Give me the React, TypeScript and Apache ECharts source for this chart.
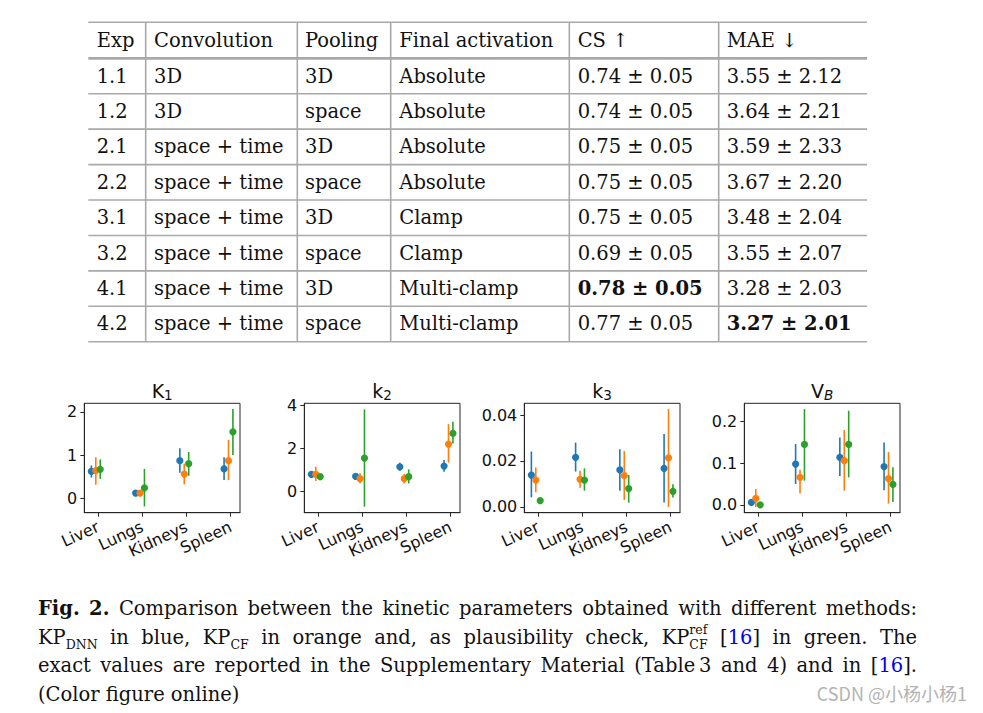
import React, { useEffect, useRef } from 'react';
import * as echarts from 'echarts';

// ---------------- Table data ----------------
const TABLE_HEADERS = ['Exp', 'Convolution', 'Pooling', 'Final activation', 'CS ↑', 'MAE ↓'];
const EXP = ['1.1', '1.2', '2.1', '2.2', '3.1', '3.2', '4.1', '4.2'];
const CONVOLUTION = ['3D', '3D', 'space + time', 'space + time', 'space + time', 'space + time', 'space + time', 'space + time'];
const POOLING = ['3D', 'space', '3D', 'space', '3D', 'space', '3D', 'space'];
const FINAL_ACTIVATION = ['Absolute', 'Absolute', 'Absolute', 'Absolute', 'Clamp', 'Clamp', 'Multi-clamp', 'Multi-clamp'];
const CS = ['0.74 ± 0.05', '0.74 ± 0.05', '0.75 ± 0.05', '0.75 ± 0.05', '0.75 ± 0.05', '0.69 ± 0.05', '0.78 ± 0.05', '0.77 ± 0.05'];
const MAE = ['3.55 ± 2.12', '3.64 ± 2.21', '3.59 ± 2.33', '3.67 ± 2.20', '3.48 ± 2.04', '3.55 ± 2.07', '3.28 ± 2.03', '3.27 ± 2.01'];
const BEST_CS_ROW = 6;
const BEST_MAE_ROW = 7;

// ---------------- Chart data ----------------
const ORGANS = ['Liver', 'Lungs', 'Kidneys', 'Spleen'];
const METHOD_COLORS = ['#1f77b4', '#ff7f0e', '#2ca02c'];
const METHOD_OFFSETS = [-0.15, -0.05, 0.05];

// each entry: [mean, low, high] per organ
const K1_DNN = [[0.62, 0.48, 0.76], [0.12, 0.10, 0.14], [0.87, 0.59, 1.16], [0.68, 0.42, 0.95]];
const K1_CF = [[0.64, 0.31, 0.95], [0.12, 0.10, 0.14], [0.56, 0.32, 0.80], [0.87, 0.42, 1.35]];
const K1_REF = [[0.67, 0.45, 0.90], [0.24, -0.19, 0.68], [0.80, 0.52, 1.07], [1.54, 1.00, 2.07]];

const K2_DNN = [[0.80, 0.70, 0.90], [0.71, 0.64, 0.78], [1.15, 0.97, 1.34], [1.18, 0.92, 1.46]];
const K2_CF = [[0.80, 0.49, 1.15], [0.60, 0.38, 0.85], [0.60, 0.38, 0.82], [2.20, 1.34, 3.12]];
const K2_REF = [[0.69, 0.60, 0.78], [1.55, -0.69, 3.80], [0.69, 0.38, 1.03], [2.69, 2.23, 3.23]];

const K3_DNN = [[0.0139, 0.0042, 0.0241], [0.0216, 0.0154, 0.0280], [0.0161, 0.0071, 0.0251], [0.0168, 0.0019, 0.0317]];
const K3_CF = [[0.0117, 0.0064, 0.0172], [0.0120, 0.0084, 0.0157], [0.0136, 0.0030, 0.0243], [0.0214, 0.0000, 0.0426]];
const K3_REF = [[0.0028, 0.0024, 0.0032], [0.0117, 0.0071, 0.0168], [0.0080, 0.0019, 0.0139], [0.0068, 0.0041, 0.0099]];

const VB_DNN = [[0.0056, 0.004, 0.007], [0.098, 0.050, 0.146], [0.114, 0.069, 0.162], [0.092, 0.035, 0.150]];
const VB_CF = [[0.0153, -0.005, 0.038], [0.066, 0.027, 0.084], [0.106, 0.034, 0.180], [0.063, 0.003, 0.127]];
const VB_REF = [[0.000, -0.001, 0.001], [0.145, 0.058, 0.230], [0.145, 0.066, 0.226], [0.049, 0.007, 0.090]];

const TITLE_MAIN = ['K', 'k', 'k', 'V'];
const TITLE_SUB = ['1', '2', '3', 'B'];
const K1_TICKS = [0, 1, 2];
const K2_TICKS = [0, 2, 4];
const K3_TICKS = [0, 0.02, 0.04];
const VB_TICKS = [0, 0.1, 0.2];

const PARAMS = [
  { data: [K1_DNN, K1_CF, K1_REF], min: -0.335, max: 2.2, ticks: K1_TICKS, dec: 0 },
  { data: [K2_DNN, K2_CF, K2_REF], min: -0.97, max: 4.08, ticks: K2_TICKS, dec: 0 },
  { data: [K3_DNN, K3_CF, K3_REF], min: -0.0025, max: 0.0451, ticks: K3_TICKS, dec: 2 },
  { data: [VB_DNN, VB_CF, VB_REF], min: -0.019, max: 0.244, ticks: VB_TICKS, dec: 1 },
];

// ---------------- Caption ----------------
type Piece = { t: string; k?: 'b' | 'sub' | 'sup'; c?: string; stack?: boolean };
const BLUE_LINK = '#0000ee';
const KP_DNN: Piece[] = [{ t: 'KP' }, { t: 'DNN', k: 'sub' }];
const KP_CF: Piece[] = [{ t: 'KP' }, { t: 'CF', k: 'sub' }];
const KP_REF_CF: Piece[] = [{ t: 'KP' }, { t: 'ref', k: 'sup', stack: true }, { t: 'CF', k: 'sub' }];
const REF16: Piece[] = [{ t: '[' }, { t: '16', c: BLUE_LINK }, { t: ']' }];
const REF16_DOT: Piece[] = [{ t: '[' }, { t: '16', c: BLUE_LINK }, { t: '].' }];
const CAPTION_LINE_1: (string | Piece[])[] = [[{ t: 'Fig.', k: 'b' }], [{ t: '2.', k: 'b' }], 'Comparison', 'between', 'the', 'kinetic', 'parameters', 'obtained', 'with', 'different', 'methods:'];
const CAPTION_LINE_2: (string | Piece[])[] = [KP_DNN, 'in', 'blue,', KP_CF, 'in', 'orange', 'and,', 'as', 'plausibility', 'check,', KP_REF_CF, REF16, 'in', 'green.', 'The'];
const CAPTION_LINE_3: (string | Piece[])[] = ['exact', 'values', 'are', 'reported', 'in', 'the', 'Supplementary', 'Material', '(Table\u20093', 'and', '4)', 'and', 'in', REF16_DOT];
const CAPTION_LINE_4: (string | Piece[])[] = ['(Color', 'figure', 'online)'];
const WATERMARK = 'CSDN @小杨小杨1';

const SERIF = '"DejaVu Serif", serif';
const SANS = '"DejaVu Sans", sans-serif';

export default function App() {
  const ref = useRef<HTMLDivElement>(null);
  useEffect(() => {
    document.body.style.margin = '0';
    const chart = echarts.init(ref.current!, null, { renderer: 'svg' });

    const canvas = document.createElement('canvas');
    const ctx = canvas.getContext('2d')!;
    const measure = (t: string, font: string) => { ctx.font = font; return ctx.measureText(t).width; };

    const graphics: any[] = [];

    // ---- table ----
    const TABLE_LEFT = 88.3, TABLE_RIGHT = 867;
    const TABLE_TOP = 22.3, HEADER_BOTTOM = 58.3, TABLE_BOTTOM = 341.7;
    const ROW_H = (TABLE_BOTTOM - HEADER_BOTTOM) / EXP.length;
    const COL_X = [96.7, 154, 305, 399.3, 577.7, 726.7];
    const COL_SEP = [145.7, 297.3, 390.7, 569.3, 718.7];
    const lineColor = '#a9a9a9';
    const tFont = (bold: boolean) => `${bold ? 'bold ' : ''}19.5px ${SERIF}`;
    graphics.push({ type: 'line', shape: { x1: TABLE_LEFT, y1: TABLE_TOP, x2: TABLE_RIGHT, y2: TABLE_TOP }, style: { stroke: lineColor, lineWidth: 1.6 } });
    graphics.push({ type: 'line', shape: { x1: TABLE_LEFT, y1: HEADER_BOTTOM, x2: TABLE_RIGHT, y2: HEADER_BOTTOM }, style: { stroke: lineColor, lineWidth: 2.8 } });
    for (let r = 1; r <= EXP.length; r++) {
      const y = HEADER_BOTTOM + r * ROW_H;
      graphics.push({ type: 'line', shape: { x1: TABLE_LEFT, y1: y, x2: TABLE_RIGHT, y2: y }, style: { stroke: lineColor, lineWidth: 1.6 } });
    }
    COL_SEP.forEach((x) => {
      graphics.push({ type: 'line', shape: { x1: x, y1: TABLE_TOP, x2: x, y2: TABLE_BOTTOM }, style: { stroke: lineColor, lineWidth: 1.6 } });
    });
    TABLE_HEADERS.forEach((h, c) => {
      graphics.push({ type: 'text', x: COL_X[c], y: (TABLE_TOP + HEADER_BOTTOM) / 2, style: { text: h, font: tFont(false), fill: '#111', align: 'left', verticalAlign: 'middle' } });
    });
    const columns = [EXP, CONVOLUTION, POOLING, FINAL_ACTIVATION, CS, MAE];
    for (let r = 0; r < EXP.length; r++) {
      const y = HEADER_BOTTOM + (r + 0.5) * ROW_H;
      columns.forEach((col, c) => {
        const bold = (c === 4 && r === BEST_CS_ROW) || (c === 5 && r === BEST_MAE_ROW);
        graphics.push({ type: 'text', x: COL_X[c], y, style: { text: col[r], font: tFont(bold), fill: '#111', align: 'left', verticalAlign: 'middle' } });
      });
    }

    // ---- chart titles ----
    const GRID_LEFTS = [84.3, 304.3, 524.3, 744.3];
    const GRID_TOP = 403.3, GRID_W = 155.7, GRID_H = 109.4;
    TITLE_MAIN.forEach((m, i) => {
      graphics.push({
        type: 'text', x: GRID_LEFTS[i] + GRID_W / 2, y: 391,
        style: {
          text: `{m|${m}}{s|${TITLE_SUB[i]}}`, align: 'center', verticalAlign: 'middle', fill: '#111',
          rich: {
            m: { fontSize: 19, fontFamily: SANS, lineHeight: 22 },
            s: { fontSize: 13.5, fontFamily: SANS, lineHeight: 13, verticalAlign: 'bottom', fontStyle: i === 3 ? 'italic' : 'normal' },
          },
        },
      });
    });

    // ---- caption ----
    const CAP_LEFT = 38, CAP_RIGHT = 917;
    const CAP_BASELINES = [615.7, 644.3, 672.5, 700.8];
    const MAIN_FS = 19.5, SUB_FS = 12.5;
    const SUB_SHIFT = 4.5, SUP_SHIFT = -10.5;
    const pieceFont = (p: Piece) => p.k === 'b' ? `bold ${MAIN_FS}px ${SERIF}` : (p.k === 'sub' || p.k === 'sup') ? `${SUB_FS}px ${SERIF}` : `${MAIN_FS}px ${SERIF}`;
    const pieceY = (p: Piece, base: number) => {
      const fs = p.k === 'sub' || p.k === 'sup' ? SUB_FS : MAIN_FS;
      const shift = p.k === 'sub' ? SUB_SHIFT : p.k === 'sup' ? SUP_SHIFT : 0;
      return base + shift - 0.346 * fs;
    };
    const toPieces = (w: string | Piece[]): Piece[] => typeof w === 'string' ? [{ t: w }] : w;
    const wordWidth = (ps: Piece[]) => {
      let wsum = 0;
      for (let i = 0; i < ps.length; i++) {
        const p = ps[i];
        const wp = measure(p.t, pieceFont(p));
        if (p.stack && i + 1 < ps.length) {
          const wn = measure(ps[i + 1].t, pieceFont(ps[i + 1]));
          wsum += Math.max(wp, wn);
          i++;
        } else wsum += wp;
      }
      return wsum;
    };
    const lines = [CAPTION_LINE_1, CAPTION_LINE_2, CAPTION_LINE_3, CAPTION_LINE_4];
    lines.forEach((line, li) => {
      const words = line.map(toPieces);
      const widths = words.map(wordWidth);
      const natural = widths.reduce((a, b) => a + b, 0);
      const normalSpace = measure(' ', `${MAIN_FS}px ${SERIF}`);
      const justify = li < lines.length - 1;
      const gap = justify ? (CAP_RIGHT - CAP_LEFT - natural) / (words.length - 1) : normalSpace;
      let x = CAP_LEFT;
      const base = CAP_BASELINES[li];
      words.forEach((ps, wi) => {
        let px = x;
        for (let i = 0; i < ps.length; i++) {
          const p = ps[i];
          graphics.push({ type: 'text', x: px, y: pieceY(p, base), style: { text: p.t, font: pieceFont(p), fill: p.c || '#111', align: 'left', verticalAlign: 'middle' } });
          const wp = measure(p.t, pieceFont(p));
          if (p.stack && i + 1 < ps.length) {
            const n = ps[i + 1];
            graphics.push({ type: 'text', x: px, y: pieceY(n, base), style: { text: n.t, font: pieceFont(n), fill: n.c || '#111', align: 'left', verticalAlign: 'middle' } });
            px += Math.max(wp, measure(n.t, pieceFont(n)));
            i++;
          } else px += wp;
        }
        x += widths[wi] + gap;
      });
    });

    // ---- watermark ----
    graphics.push({ type: 'text', x: 967, y: 693, style: { text: WATERMARK, font: '18px "Noto Sans CJK SC", sans-serif', fill: '#b3b3b3', align: 'right', verticalAlign: 'middle' } });

    const axisColor = '#262626';
    const makeRender = (offset: number, color: string) => (params: any, api: any) => {
      const xi = api.value(0);
      const x = xi + offset;
      const pm = api.coord([x, api.value(1)]);
      const plo = api.coord([x, api.value(2)]);
      const phi = api.coord([x, api.value(3)]);
      return {
        type: 'group',
        children: [
          { type: 'line', shape: { x1: plo[0], y1: plo[1], x2: phi[0], y2: phi[1] }, style: { stroke: color, lineWidth: 1.6 } },
          { type: 'circle', shape: { cx: pm[0], cy: pm[1], r: 3.6 }, style: { fill: color } },
        ],
      };
    };

    const option: any = {
      animation: false,
      backgroundColor: '#ffffff',
      grid: PARAMS.map((_, i) => ({ left: GRID_LEFTS[i], top: GRID_TOP, width: GRID_W, height: GRID_H, show: true, borderColor: axisColor, borderWidth: 1, backgroundColor: 'transparent' })),
      xAxis: PARAMS.map((_, i) => ({
        type: 'value', gridIndex: i, min: -0.31, max: 3.21,
        splitLine: { show: false },
        axisLine: { show: true, onZero: false, lineStyle: { color: axisColor, width: 1 } },
        axisTick: { show: true, length: 4, customValues: [0, 1, 2, 3], lineStyle: { color: axisColor } },
        axisLabel: { customValues: [0, 1, 2, 3], formatter: (v: number) => ORGANS[Math.round(v)] ?? '', rotate: 25, fontSize: 16, fontFamily: SANS, color: '#111', margin: 13 },
      })),
      yAxis: PARAMS.map((p, i) => ({
        type: 'value', gridIndex: i, min: p.min, max: p.max,
        splitLine: { show: false },
        axisLine: { show: true, onZero: false, lineStyle: { color: axisColor, width: 1 } },
        axisTick: { show: true, length: 4, customValues: p.ticks, lineStyle: { color: axisColor } },
        axisLabel: { customValues: p.ticks, formatter: (v: number) => v.toFixed(p.dec), fontSize: 16, fontFamily: SANS, color: '#111', margin: 7 },
      })),
      series: PARAMS.flatMap((p, i) => p.data.map((d, m) => ({
        type: 'custom', xAxisIndex: i, yAxisIndex: i, clip: false, silent: true,
        data: d.map((v, k) => [k, v[0], v[1], v[2]]),
        renderItem: makeRender(METHOD_OFFSETS[m], METHOD_COLORS[m]),
      }))),
      graphic: graphics,
    };
    chart.setOption(option);
    return () => chart.dispose();
  }, []);
  return <div ref={ref} style={{ width: 983, height: 713 }} />;
}
